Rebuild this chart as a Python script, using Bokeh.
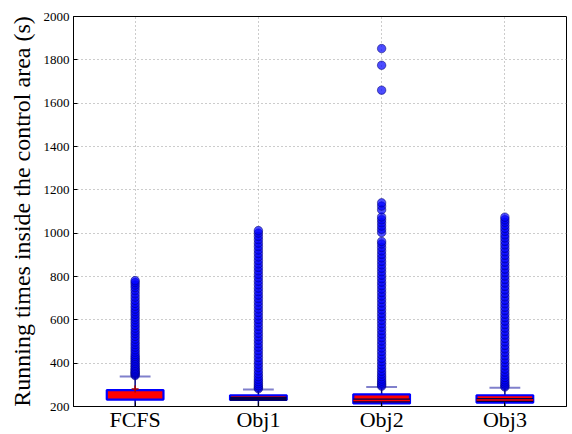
from bokeh.plotting import figure
from bokeh.models import Range1d, FixedTicker
from bokeh.embed import file_html
from bokeh.resources import INLINE

categories = ["FCFS", "Obj1", "Obj2", "Obj3"]
positions = [1, 2, 3, 4]
q1 = [232, 230, 214, 218]
median = [240, 236, 228, 230]
q3 = [276, 252, 256, 252]
whisker_low = [190, 190, 190, 190]
whisker_high = [339, 278, 290, 287]
means = [281, None, None, None]
y_ticks = [200, 400, 600, 800, 1000, 1200, 1400, 1600, 1800, 2000]

fliers_fcfs = [343, 348, 353, 358, 364, 370, 377, 384, 391, 399, 407, 415, 423, 431,
               440, 451, 462, 474, 486, 498, 511, 524, 537, 549, 562, 575, 588, 601,
               613, 626, 638, 650, 663, 676, 690, 705, 720, 735, 749, 761, 772, 781]
fliers_obj1 = [282, 288, 296, 305, 315, 326, 338, 351, 365, 380, 395, 410, 426, 442,
               458, 474, 490, 506, 522, 538, 554, 570, 586, 602, 618, 634, 650, 666,
               682, 698, 714, 730, 746, 762, 778, 794, 810, 826, 842, 858, 874, 890,
               906, 922, 938, 954, 970, 985, 1000, 1012]
fliers_obj2 = [294, 300, 308, 317, 327, 338, 350, 363, 377, 392, 407, 422, 438, 454,
               470, 486, 502, 518, 534, 550, 566, 582, 598, 614, 630, 646, 662, 678,
               694, 710, 726, 742, 758, 774, 790, 806, 822, 838, 854, 870, 886, 902,
               918, 934, 950, 962, 1003, 1018, 1033, 1048, 1062, 1075, 1108, 1125,
               1140, 1660, 1775, 1852]
fliers_obj3 = [290, 296, 304, 313, 323, 334, 346, 359, 373, 388, 403, 418, 434, 450,
               466, 482, 498, 514, 530, 546, 562, 578, 594, 610, 626, 642, 658, 674,
               690, 706, 722, 738, 754, 770, 786, 802, 818, 834, 850, 866, 882, 898,
               914, 930, 946, 962, 978, 992, 1008, 1022, 1036, 1050, 1062, 1074]
fliers = [fliers_fcfs, fliers_obj1, fliers_obj2, fliers_obj3]

p = figure(width=568, height=434, output_backend="svg", toolbar_location=None,
           x_range=Range1d(0.5, 4.5), y_range=Range1d(200, 2000),
           min_border_left=73, min_border_right=2, min_border_top=16, min_border_bottom=26)
p.background_fill_color = "white"
p.border_fill_color = "white"
p.outline_line_color = "black"
p.outline_line_width = 1

font = "Liberation Serif"
p.xaxis.ticker = FixedTicker(ticks=positions)
p.xaxis.major_label_overrides = {pos: c for pos, c in zip(positions, categories)}
p.yaxis.ticker = FixedTicker(ticks=y_ticks)
for ax in (p.xaxis, p.yaxis):
    ax.major_label_text_font = font
    ax.major_label_text_color = "black"
    ax.axis_line_color = "black"
    ax.major_tick_in = 4
    ax.major_tick_out = 0
    ax.minor_tick_line_color = None
    ax.major_tick_line_color = "black"
p.xaxis.major_label_text_font_size = "22px"
p.yaxis.major_label_text_font_size = "13px"
p.xaxis.major_label_standoff = 0
p.yaxis.major_label_standoff = 4
p.yaxis.axis_label = "Running times inside the control area (s)"
p.yaxis.axis_label_text_font = font
p.yaxis.axis_label_text_font_size = "24px"
p.yaxis.axis_label_text_font_style = "normal"
p.yaxis.axis_label_text_color = "black"
p.yaxis.axis_label_standoff = 6

p.grid.grid_line_color = "#999999"
p.grid.grid_line_dash = "1 3"
p.grid.grid_line_width = 1

bw = 0.23
cw = 0.125

# whiskers
p.segment(x0=positions, y0=q3, x1=positions, y1=whisker_high, line_color="#000080", line_width=1.5)
p.segment(x0=positions, y0=whisker_low, x1=positions, y1=q1, line_color="#000080", line_width=1.5)
# caps
p.segment(x0=[x - cw for x in positions], y0=whisker_high, x1=[x + cw for x in positions],
          y1=whisker_high, line_color="#8080cc", line_width=2)

# fliers
for x, vals in zip(positions, fliers):
    p.scatter(x=[x] * len(vals), y=vals, size=8.5, marker="circle",
              fill_color="#0000ff", fill_alpha=0.7, line_color="#000066", line_alpha=0.5)

# boxes
p.quad(left=[x - bw for x in positions], right=[x + bw for x in positions],
       bottom=q1, top=q3, fill_color="red", line_color="blue", line_width=2.2)
# medians
p.segment(x0=[x - bw for x in positions[1:]], y0=median[1:], x1=[x + bw for x in positions[1:]],
          y1=median[1:], line_color="#000050", line_width=4)
p.segment(x0=[x - bw for x in positions[2:]], y0=median[2:], x1=[x + bw for x in positions[2:]],
          y1=median[2:], line_color="red", line_width=1.5)
# mean marker
p.scatter(x=[positions[0]], y=[means[0]], marker="cross", size=7, line_color="#aa0000", line_width=1.5)

open("out.html", "w").write(file_html(p, INLINE))
